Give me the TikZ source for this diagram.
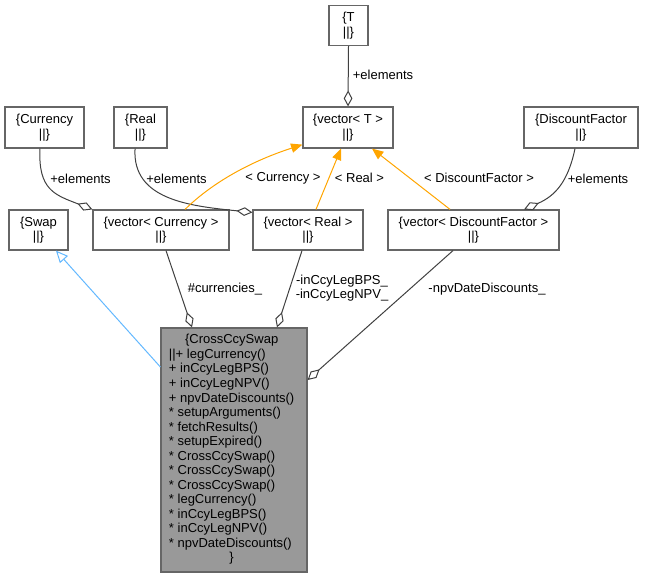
\documentclass[tikz,border=0pt]{standalone}
\usepackage{fontspec}
\setmainfont{Liberation Sans}
\usetikzlibrary{arrows.meta}
\definecolor{edgegray}{HTML}{404040}
\definecolor{boxgray}{HTML}{666666}
\definecolor{mainfill}{HTML}{999999}
\definecolor{inhblue}{HTML}{63B8FF}
\definecolor{orangeedge}{HTML}{FFA500}
\newcommand{\fsz}{\fontsize{9.75}{10.9}\selectfont}
\tikzset{
  uml/.style={draw=boxgray, line width=0.9pt, fill=white, inner sep=0pt, align=center, font=\fsz},
  lbl/.style={inner sep=0pt, font=\fsz},
  agg/.style={draw=edgegray, line width=0.75pt, -{Diamond[open, length=12pt, width=6.5pt, line width=0.75pt]}},
  tmpl/.style={draw=orangeedge, line width=0.75pt, -{Triangle[length=8.5pt, width=7pt]}},
  inh/.style={draw=inhblue, line width=0.75pt, -{Triangle[open, length=9pt, width=8pt, line width=0.75pt]}},
}
\begin{document}
\begin{tikzpicture}[x=0.75pt, y=-0.75pt]
\useasboundingbox (0,0) rectangle (645,579);

% top row
\node[uml, minimum width=29.25pt, minimum height=30pt] (T) at (348.5,25.5) {\{T\\||\}};
\node[uml, minimum width=67.5pt, minimum height=30.75pt] (vecT) at (348,127.5) {\{vector< T >\\||\}};
\node[uml, minimum width=59.25pt, minimum height=30.75pt] (Currency) at (44.5,127.5) {\{Currency\\||\}};
\node[uml, minimum width=39.75pt, minimum height=30.75pt] (Real) at (140.5,127.5) {\{Real\\||\}};
\node[uml, minimum width=85.5pt, minimum height=30.75pt] (DF) at (581,127.5) {\{DiscountFactor\\||\}};

% second row
\node[uml, minimum width=44.25pt, minimum height=30pt] (Swap) at (38.5,230) {\{Swap\\||\}};
\node[uml, minimum width=102pt, minimum height=30pt] (vecCur) at (161,230) {\{vector< Currency >\\||\}};
\node[uml, minimum width=82.5pt, minimum height=30pt] (vecReal) at (308,230) {\{vector< Real >\\||\}};
\node[uml, minimum width=128.25pt, minimum height=30pt] (vecDF) at (473.5,230) {\{vector< DiscountFactor >\\||\}};

% main class
\node[uml, fill=mainfill, minimum width=109.5pt, minimum height=183pt] (main) at (234,450) {%
\begin{tabular}{@{}l@{}}
\multicolumn{1}{@{}c@{}}{\{CrossCcySwap}\\
||+ legCurrency()\\
+ inCcyLegBPS()\\
+ inCcyLegNPV()\\
+ npvDateDiscounts()\\
{*} setupArguments()\\
{*} fetchResults()\\
{*} setupExpired()\\
{*} CrossCcySwap()\\
{*} CrossCcySwap()\\
{*} CrossCcySwap()\\
{*} legCurrency()\\
{*} inCcyLegBPS()\\
{*} inCcyLegNPV()\\
{*} npvDateDiscounts()\\
\multicolumn{1}{@{}c@{}}{\}}
\end{tabular}\hspace*{3.5pt}};

% aggregation edges
\draw[agg] (T.south) -- (vecT.north);
\draw[agg] ([xshift=-3.4pt]Currency.south) .. controls (38,190) and (55,195) .. (vecCur.north west);
\draw[agg] ([xshift=-4.1pt]Real.south) .. controls (132,200) and (190,206) .. ([yshift=-2.25pt]vecReal.north west);
\draw[agg] ([xshift=-4.5pt]DF.south) .. controls (568,182) and (555,196) .. ([xshift=37.9pt]vecDF.north);

\draw[agg] ([xshift=3.75pt]vecCur.south) -- ([xshift=-31.5pt]main.north);
\draw[agg] ([xshift=-4.5pt]vecReal.south) -- ([xshift=32.25pt]main.north);
\draw[agg] ([xshift=-15.4pt]vecDF.south) -- ([yshift=52.5pt]main.east);

% template instantiation edges
\draw[tmpl] ([xshift=18pt]vecCur.north) .. controls (215,180) and (255,160) .. ([yshift=3pt]vecT.south west);
\draw[tmpl] ([xshift=6pt]vecReal.north) -- ([xshift=-5.25pt]vecT.south);
\draw[tmpl] ([xshift=-17.6pt]vecDF.north) -- ([xshift=18pt]vecT.south);

% inheritance
\draw[inh] ([yshift=62.25pt]main.west) -- ([xshift=13.1pt]Swap.south);

% labels
\node[lbl] (lT) at (383,75) {+elements};
\node[lbl] (lCur) at (80.5,179) {+elements};
\node[lbl] (lReal) at (176.5,179) {+elements};
\node[lbl] (lDF) at (598,179) {+elements};
\node[lbl] (tCur) at (283,178) {< Currency >};
\node[lbl] (tReal) at (359.5,178) {< Real >};
\node[lbl] (tDF) at (479,178) {< DiscountFactor >};
\node[lbl] (lcurr) at (225,289) {\#currencies\_};
\node[lbl, align=center] (lleg) at (342,288) {-inCcyLegBPS\_\\-inCcyLegNPV\_};
\node[lbl] (lnpv) at (487,289) {-npvDateDiscounts\_};
\end{tikzpicture}
\end{document}
